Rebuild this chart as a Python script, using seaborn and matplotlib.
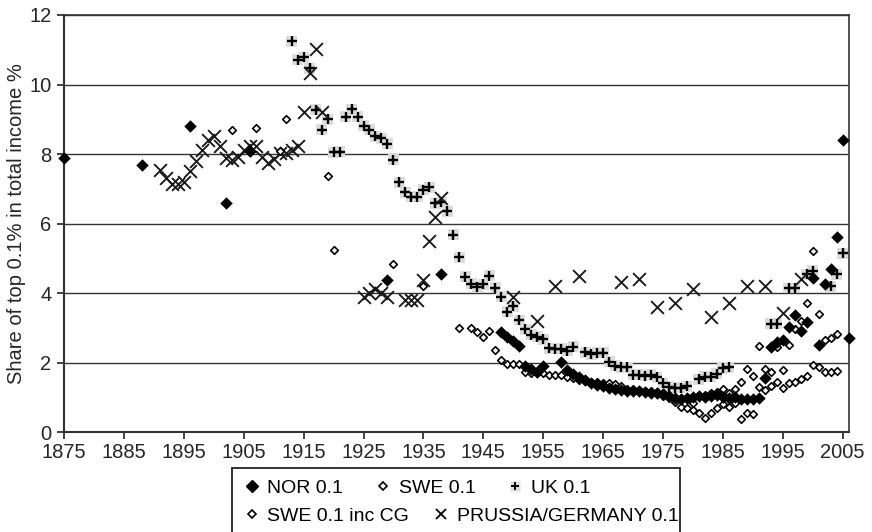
import matplotlib
matplotlib.use("Agg")
import matplotlib.pyplot as plt
from matplotlib.lines import Line2D
from matplotlib.patches import Rectangle
from matplotlib.legend_handler import HandlerTuple
import seaborn as sns
import pandas as pd

# ---------------- data ----------------
NOR_YEARS = [1875, 1888, 1896, 1902, 1906, 1929, 1938, 1948, 1949, 1950, 1951,
             1952, 1953, 1954, 1955, 1958, 1959, 1960, 1961, 1962, 1963, 1964,
             1965, 1966, 1967, 1968, 1969, 1970, 1971, 1972, 1973, 1974, 1975,
             1976, 1977, 1978, 1979, 1980, 1981, 1982, 1983, 1984, 1985, 1986,
             1987, 1988, 1989, 1990, 1991, 1992, 1993, 1994, 1995, 1996, 1997,
             1998, 1999, 2000, 2001, 2002, 2003, 2004, 2005, 2006]
NOR_VALS = [7.9, 7.7, 8.8, 6.6, 8.1, 4.38, 4.55, 2.88, 2.75, 2.62, 2.48,
            1.92, 1.82, 1.72, 1.9, 2.02, 1.8, 1.68, 1.58, 1.5, 1.43, 1.37,
            1.32, 1.28, 1.25, 1.22, 1.2, 1.2, 1.18, 1.15, 1.13, 1.12, 1.1,
            1.05, 1.0, 0.97, 1.0, 1.02, 1.04, 1.02, 1.04, 1.06, 1.02, 1.0,
            1.02, 0.97, 0.95, 0.95, 0.98, 1.55, 2.45, 2.6, 2.65, 3.03, 3.36,
            2.92, 3.18, 4.43, 2.51, 4.27, 4.69, 5.63, 8.41, 2.7]

SWE_YEARS = [1903, 1907, 1911, 1912, 1919, 1920, 1930, 1935, 1941, 1943, 1944,
             1945, 1946, 1947, 1948, 1949, 1950, 1951, 1952, 1953, 1954, 1955,
             1956, 1957, 1958, 1959, 1960, 1961, 1962, 1963, 1964, 1965, 1966,
             1967, 1968, 1969, 1970, 1971, 1972, 1973, 1974, 1975, 1976, 1977,
             1978, 1979, 1980, 1981, 1982, 1983, 1984, 1985, 1986, 1987, 1988,
             1989, 1990, 1991, 1992, 1993, 1994, 1995, 1996, 1997, 1998, 1999,
             2000, 2001, 2002, 2003, 2004]
SWE_VALS = [8.68, 8.75, 8.1, 9.02, 7.36, 5.25, 4.83, 4.22, 3.01, 3.01, 2.87,
            2.74, 2.92, 2.37, 2.08, 1.96, 1.96, 1.96, 1.74, 1.71, 1.71, 1.7,
            1.66, 1.66, 1.66, 1.6, 1.55, 1.5, 1.48, 1.46, 1.44, 1.43, 1.42,
            1.38, 1.33, 1.25, 1.2, 1.18, 1.15, 1.12, 1.1, 1.05, 0.98, 0.88,
            0.74, 0.69, 0.64, 0.56, 0.4, 0.55, 0.69, 0.81, 0.74, 0.83, 0.37,
            0.55, 0.53, 1.31, 1.22, 1.33, 1.46, 1.27, 1.41, 1.46, 1.53, 1.62,
            1.94, 1.89, 1.72, 1.72, 1.75]

SWECG_YEARS = [1970, 1971, 1972, 1973, 1974, 1975, 1976, 1977, 1978, 1979,
               1980, 1981, 1982, 1983, 1984, 1985, 1986, 1987, 1988, 1989,
               1990, 1991, 1992, 1993, 1994, 1995, 1996, 1997, 1998, 1999,
               2000, 2001, 2002, 2003, 2004]
SWECG_VALS = [1.25, 1.22, 1.2, 1.18, 1.15, 1.12, 1.05, 0.95, 1.0, 0.95,
              0.85, 1.07, 1.07, 1.12, 1.17, 1.24, 1.12, 1.24, 1.46, 1.82,
              1.62, 2.48, 1.82, 1.74, 2.45, 1.8, 2.52, 2.98, 3.2, 3.73,
              5.2, 3.39, 2.66, 2.7, 2.83]

UK_YEARS = [1913, 1914, 1915, 1916, 1917, 1918, 1919, 1920, 1921, 1922, 1923,
            1924, 1925, 1926, 1927, 1928, 1929, 1930, 1931, 1932, 1933, 1934,
            1935, 1936, 1937, 1938, 1939, 1940, 1941, 1942, 1943, 1944, 1945,
            1946, 1947, 1948, 1949, 1950, 1951, 1952, 1953, 1954, 1955, 1956,
            1957, 1958, 1959, 1960, 1962, 1963, 1964, 1965, 1966, 1967, 1968,
            1969, 1970, 1971, 1972, 1973, 1974, 1975, 1976, 1977, 1978, 1979,
            1981, 1982, 1983, 1984, 1985, 1986, 1993, 1994, 1996, 1997, 1999,
            2000, 2003, 2004, 2005]
UK_VALS = [11.24, 10.71, 10.78, 10.47, 9.27, 8.7, 9.0, 8.05, 8.07, 9.08, 9.29,
           9.08, 8.81, 8.7, 8.51, 8.45, 8.3, 7.84, 7.19, 6.9, 6.78, 6.78,
           6.97, 7.04, 6.59, 6.61, 6.35, 5.68, 5.04, 4.48, 4.27, 4.19, 4.26,
           4.5, 4.16, 3.9, 3.47, 3.63, 3.23, 2.96, 2.8, 2.75, 2.68, 2.42,
           2.4, 2.4, 2.34, 2.46, 2.3, 2.25, 2.29, 2.29, 2.03, 1.91, 1.87,
           1.87, 1.65, 1.65, 1.62, 1.65, 1.58, 1.41, 1.31, 1.28, 1.28, 1.33,
           1.53, 1.6, 1.6, 1.68, 1.84, 1.87, 3.12, 3.12, 4.15, 4.15, 4.55,
           4.65, 4.2, 4.55, 5.15]

PRU_YEARS = [1891, 1892, 1893, 1894, 1895, 1896, 1897, 1898, 1899, 1900, 1901,
             1902, 1903, 1904, 1905, 1906, 1907, 1908, 1909, 1910, 1911, 1912,
             1913, 1914, 1915, 1916, 1917, 1918, 1925, 1926, 1927, 1928, 1929,
             1932, 1933, 1934, 1935, 1936, 1937, 1938, 1950, 1954, 1957, 1961,
             1968, 1971, 1974, 1977, 1980, 1983, 1986, 1989, 1992, 1995, 1998]
PRU_VALS = [7.53, 7.31, 7.15, 7.15, 7.21, 7.52, 7.79, 8.12, 8.41, 8.51, 8.22,
            7.88, 7.84, 7.93, 8.12, 8.22, 8.22, 7.93, 7.74, 7.86, 8.03, 8.03,
            8.12, 8.22, 9.2, 10.33, 11.02, 9.2, 3.9, 4.0, 4.11, 4.0, 3.9,
            3.81, 3.81, 3.81, 4.38, 5.51, 6.2, 6.73, 3.9, 3.2, 4.22, 4.5,
            4.32, 4.4, 3.6, 3.73, 4.12, 3.31, 3.73, 4.22, 4.22, 3.42, 4.4]

LABELS = ["NOR 0.1", "SWE 0.1", "UK 0.1", "SWE 0.1 inc CG", "PRUSSIA/GERMANY 0.1"]
X_TICKS = list(range(1875, 2006, 10))
Y_TICKS = list(range(0, 13, 2))

# ---------------- style ----------------
sns.set_style("white")
plt.rcParams["font.family"] = ["Liberation Sans", "DejaVu Sans"]
FS = 14.5
LFS = 14

W, H = 872, 532
fig = plt.figure(figsize=(W / 100, H / 100), dpi=100)
ax = fig.add_axes([64 / W, 1 - 432.3 / H, (848.7 - 64) / W, (432.3 - 15) / H])

nor = pd.DataFrame({"year": NOR_YEARS, "val": NOR_VALS})
swe = pd.DataFrame({"year": SWE_YEARS, "val": SWE_VALS})
swecg = pd.DataFrame({"year": SWECG_YEARS, "val": SWECG_VALS})
uk = pd.DataFrame({"year": UK_YEARS, "val": UK_VALS})
pru = pd.DataFrame({"year": PRU_YEARS, "val": PRU_VALS})

common = dict(x="year", y="val", ax=ax, legend=False, clip_on=False)
# UK: gray square background + black plus
sns.scatterplot(data=uk, marker="s", s=62, color="#dcdcdc", edgecolor="none",
                linewidth=0, zorder=2, **common)
sns.scatterplot(data=uk, marker="+", s=50, color="black", linewidth=1.7,
                zorder=3, **common)
sns.scatterplot(data=pru, marker="x", s=85, color="#1a1a1a", linewidth=1.35,
                zorder=3, **common)
sns.scatterplot(data=swe, marker="D", s=15, color="white", edgecolor="black",
                linewidth=1.2, zorder=4, **common)
sns.scatterplot(data=swecg, marker="D", s=15, color="white", edgecolor="black",
                linewidth=1.2, zorder=4, **common)
sns.scatterplot(data=nor, marker="D", s=36, color="black", edgecolor="black",
                linewidth=0.3, zorder=5, **common)

ax.set_xlim(1875, 2006)
ax.set_ylim(0, 12)
ax.set_xticks(X_TICKS)
ax.set_xticklabels([str(t) for t in X_TICKS], fontsize=FS)
ax.set_yticks(Y_TICKS)
ax.set_yticklabels([str(t) for t in Y_TICKS], fontsize=FS)
ax.tick_params(axis="both", direction="out", length=5, width=1.2,
               color="#222222", bottom=True, left=True)
ax.tick_params(axis="x", pad=2.5)
ax.tick_params(axis="y", pad=4)
ax.set_xlabel("")
ax.set_ylabel("Share of top 0.1% in total income %", fontsize=FS, labelpad=2)
ax.yaxis.grid(True, color="#333333", linewidth=1.0)
ax.xaxis.grid(False)
ax.set_axisbelow(True)
for side in ["left", "bottom", "right", "top"]:
    ax.spines[side].set_visible(True)
    ax.spines[side].set_color("#333333")
    ax.spines[side].set_linewidth(1.2)
ax.spines["left"].set_linewidth(1.5)
ax.spines["bottom"].set_linewidth(1.5)

# ---------------- legend ----------------
h_nor = Line2D([], [], marker="D", linestyle="none", markersize=6,
               markerfacecolor="black", markeredgecolor="black")
h_swe = Line2D([], [], marker="D", linestyle="none", markersize=4.2,
               markerfacecolor="white", markeredgecolor="black", markeredgewidth=1.2)
h_uk = (Line2D([], [], marker="s", linestyle="none", markersize=7,
               markerfacecolor="#dcdcdc", markeredgecolor="none"),
        Line2D([], [], marker="+", linestyle="none", markersize=6,
               markeredgecolor="black", markeredgewidth=1.4))
h_swecg = Line2D([], [], marker="D", linestyle="none", markersize=4.2,
                 markerfacecolor="white", markeredgecolor="black", markeredgewidth=1.2)
h_pru = Line2D([], [], marker="x", linestyle="none", markersize=7,
               markeredgecolor="black", markeredgewidth=1.3)

leg_kw = dict(loc="center left", frameon=False, fontsize=LFS, borderpad=0,
              borderaxespad=0, handlelength=0.8, handletextpad=0.4,
              columnspacing=1.65, bbox_transform=fig.transFigure,
              handler_map={tuple: HandlerTuple(ndivide=1, pad=0)})
leg1 = fig.legend([h_nor, h_swe, h_uk], LABELS[:3], ncol=3,
                  bbox_to_anchor=(244 / W, 1 - 488 / H), **leg_kw)
leg_kw["columnspacing"] = 1.25
leg2 = fig.legend([h_swecg, h_pru], LABELS[3:], ncol=2,
                  bbox_to_anchor=(244 / W, 1 - 516 / H), **leg_kw)
for t in leg1.get_texts() + leg2.get_texts():
    t.set_color("black")

fig.patches.append(Rectangle((232 / W, -0.05), (680 - 232) / W, 0.05 + (1 - 468 / H),
                             transform=fig.transFigure, fill=False,
                             edgecolor="#222222", linewidth=1.3))

fig.savefig("out.png", dpi=100)
